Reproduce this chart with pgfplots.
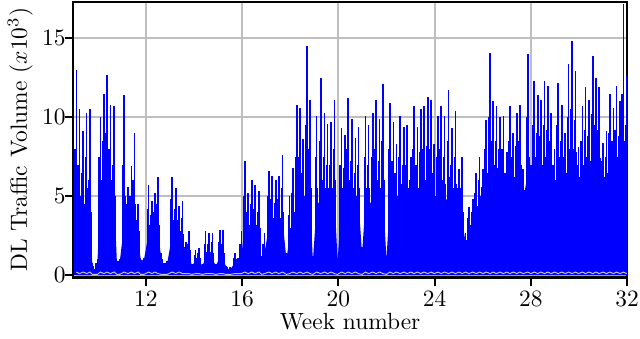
\documentclass[border=0pt]{standalone}
\usepackage{pgfplots}
\pgfplotsset{compat=1.18}
\usepackage{pgfplotstable}

% one row per daily spike: k = day since start of week 9,
% P = daily peak, S/T = secondary hourly peaks, F = solid level, G = gray series
\pgfplotstableread{
k P S T F G
0.8 13.0 8.0 6.5 3.2 0.2
1.7 10.5 7.0 5.0 2.8 0.1
2.8 9.1 6.5 4.5 3.0 0.2
3.8 10.3 7.5 5.5 3.4 0.1
4.7 10.5 6.0 4.0 3.0 0.2
5.5 0.8 0.7 0.6 0.6 0.05
6.2 0.4 0.5 0.5 0.3 0.05
6.9 1.0 0.8 0.9 0.7 0.05
7.8 10.0 7.5 6.0 5.0 0.2
8.8 11.5 8.5 6.5 5.5 0.1
9.7 12.7 9.0 7.0 5.8 0.2
10.7 10.8 8.0 6.0 5.2 0.1
11.8 10.7 7.0 5.0 4.8 0.2
12.6 0.9 0.8 0.7 0.8 0.05
13.4 1.0 0.9 0.8 0.8 0.05
14.7 11.4 7.0 5.0 3.2 0.2
15.8 5.6 4.5 3.5 2.6 0.1
16.8 6.9 5.0 4.0 3.0 0.2
17.7 9.0 6.0 4.5 3.2 0.1
18.8 4.5 3.5 2.8 2.4 0.2
19.5 1.1 1.0 0.9 1.0 0.05
20.4 1.1 0.9 1.0 0.9 0.05
21.8 5.7 4.2 3.2 2.6 0.2
22.8 4.7 3.8 3.0 2.4 0.1
23.6 5.2 4.0 3.0 2.6 0.2
24.6 6.2 4.5 3.2 2.8 0.1
25.5 1.4 1.2 1.0 1.0 0.05
26.3 0.8 0.7 0.7 0.6 0.05
27.2 0.9 0.8 0.7 0.7 0.05
28.7 6.2 4.8 3.5 2.6 0.2
29.7 5.5 4.2 3.2 2.6 0.1
30.7 4.4 3.5 2.8 2.2 0.2
31.7 4.7 3.6 2.6 2.2 0.1
32.6 2.1 1.8 1.5 1.2 0.1
33.5 2.8 2.0 1.6 1.4 0.1
34.4 0.7 0.6 0.6 0.6 0.05
35.5 1.6 1.3 1.1 0.9 0.1
36.5 1.75 1.4 1.1 0.9 0.1
37.5 0.7 0.6 0.6 0.6 0.05
38.4 2.8 2.0 1.5 1.1 0.1
39.4 2.7 2.0 1.5 1.1 0.1
40.4 2.7 2.1 1.4 1.0 0.1
41.4 0.7 0.6 0.6 0.6 0.05
42.5 2.85 2.1 1.5 1.1 0.1
43.4 2.85 2.0 1.4 1.1 0.1
44.4 0.6 0.6 0.5 0.5 0.05
45.4 0.5 0.4 0.5 0.3 0.05
46.9 1.4 1.1 0.9 0.8 0.1
47.9 1.1 1.0 0.9 0.8 0.1
48.8 2.8 2.0 1.6 1.3 0.1
49.8 7.2 5.0 3.8 3.0 0.2
50.8 5.2 4.0 3.2 2.6 0.1
51.8 6.05 4.5 3.4 2.8 0.2
52.8 5.7 4.2 3.2 2.8 0.1
53.9 5.3 4.0 3.0 2.6 0.2
54.7 1.2 1.0 0.9 0.8 0.05
55.5 2.7 2.0 1.6 1.4 0.1
56.8 6.6 5.0 3.8 3.0 0.2
57.7 6.3 4.8 3.6 3.0 0.1
58.8 6.05 4.6 3.5 2.8 0.2
59.7 6.3 4.8 3.6 3.0 0.1
60.8 7.6 5.5 4.0 3.4 0.2
61.9 1.4 1.2 1.0 1.0 0.05
62.8 5.0 3.8 3.0 2.4 0.1
63.8 6.8 5.2 4.0 3.2 0.2
64.9 10.8 7.5 5.5 4.4 0.1
65.8 10.6 7.5 5.5 4.6 0.2
66.8 8.6 6.5 5.0 4.0 0.1
67.9 14.5 9.5 6.5 5.0 0.2
68.8 11.1 8.0 5.5 4.6 0.1
69.6 1.2 1.0 0.9 0.9 0.05
70.7 10.1 7.5 5.5 4.4 0.2
71.9 12.5 8.5 6.0 4.8 0.1
73.0 10.3 7.5 5.5 4.6 0.2
73.9 9.6 7.0 5.5 4.4 0.1
74.9 9.7 7.0 5.5 4.6 0.2
75.9 11.1 8.0 6.0 4.8 0.1
76.8 1.1 1.0 0.9 0.9 0.05
77.9 9.3 7.0 5.5 4.6 0.2
79.0 8.9 6.8 5.2 4.4 0.1
79.9 11.2 8.0 6.0 5.0 0.2
80.9 9.9 7.2 5.5 4.6 0.1
82.0 8.7 6.5 5.0 4.4 0.2
82.9 9.4 7.0 5.5 4.6 0.1
83.9 1.8 1.5 1.3 1.3 0.05
84.9 10.1 7.5 5.5 4.6 0.2
85.8 9.5 7.0 5.5 4.4 0.1
87.0 10.3 7.5 5.8 4.8 0.2
88.0 11.1 8.0 6.0 5.0 0.1
89.0 9.9 7.2 5.5 4.6 0.2
90.0 12.1 8.5 6.0 5.0 0.1
91.0 1.2 1.0 0.9 1.0 0.05
92.0 10.9 8.0 6.0 4.8 0.2
93.0 9.7 7.2 5.5 4.6 0.1
93.9 8.3 6.5 5.0 4.2 0.2
95.0 10.1 7.5 5.8 4.8 0.1
96.1 9.4 7.0 5.5 4.6 0.2
97.0 9.5 7.0 5.5 4.6 0.1
98.1 7.5 6.0 5.0 4.0 0.2
99.0 10.7 8.0 6.0 4.8 0.1
100.0 9.4 7.0 5.5 4.6 0.2
101.0 10.5 7.8 6.0 4.8 0.1
101.9 10.7 8.0 6.0 5.0 0.2
103.0 11.3 8.2 6.2 5.0 0.1
104.0 11.1 8.0 6.0 5.0 0.2
104.9 8.3 6.5 5.0 4.2 0.1
106.0 10.1 7.5 5.8 4.6 0.2
106.9 10.7 8.0 6.0 4.8 0.1
107.9 10.1 7.5 5.8 4.6 0.2
109.1 11.7 8.5 6.2 5.0 0.1
110.0 9.3 7.0 5.5 4.4 0.2
111.1 10.4 7.5 5.8 4.6 0.1
112.1 6.7 5.5 4.5 3.6 0.2
113.0 7.5 5.5 4.0 3.6 0.1
114.0 2.7 2.4 2.2 2.0 0.2
115.0 4.3 3.6 3.2 2.6 0.1
116.1 4.8 4.0 3.6 3.0 0.2
117.1 6.5 5.2 4.4 3.8 0.1
118.1 7.5 6.0 5.0 4.4 0.2
119.1 6.7 5.6 4.8 4.2 0.1
120.0 9.8 8.0 6.5 5.2 0.2
121.2 14.1 10.0 7.5 6.2 0.1
122.0 11.0 8.5 7.0 5.8 0.2
123.0 10.7 8.5 6.8 5.6 0.1
124.0 10.0 8.0 6.5 5.4 0.2
125.0 10.1 8.0 6.5 5.6 0.1
126.0 7.8 6.5 5.5 4.8 0.2
126.9 10.7 8.5 7.0 5.8 0.1
127.9 9.0 7.5 6.2 5.4 0.2
128.9 10.3 8.2 6.8 5.8 0.1
129.8 10.8 8.5 7.0 6.0 0.2
130.8 6.7 6.0 5.4 4.8 0.1
132.1 14.0 10.0 7.5 6.4 0.2
133.0 7.0 6.2 5.6 5.2 0.1
134.0 12.3 9.5 7.5 6.4 0.2
135.0 11.4 9.0 7.2 6.2 0.1
135.9 11.1 8.8 7.0 6.0 0.2
137.0 12.3 9.5 7.5 6.6 0.1
137.9 12.0 9.2 7.5 6.4 0.2
138.9 10.3 8.5 7.0 6.0 0.1
139.9 8.0 7.0 6.0 5.4 0.2
140.9 12.2 9.5 7.5 6.6 0.1
142.0 10.8 8.5 7.0 6.2 0.2
143.0 9.0 7.5 6.5 5.8 0.1
144.0 13.4 10.0 8.0 6.8 0.2
145.0 14.8 10.5 8.0 7.0 0.1
146.0 12.9 9.8 7.8 6.8 0.2
146.9 8.1 7.0 6.2 5.6 0.1
148.0 10.7 8.5 7.0 6.2 0.2
148.9 11.9 9.2 7.5 6.6 0.1
149.9 11.1 8.8 7.2 6.4 0.2
151.0 13.9 10.2 8.0 7.0 0.1
152.0 12.5 9.5 7.6 6.6 0.2
152.9 11.9 9.2 7.4 6.4 0.1
154.0 8.4 7.2 6.2 5.6 0.2
155.0 9.1 7.5 6.5 6.0 0.1
156.0 11.5 9.0 7.4 6.6 0.2
157.0 10.6 8.5 7.0 6.4 0.1
157.9 12.0 9.2 7.5 6.8 0.2
159.0 11.0 8.8 7.2 6.6 0.1
159.9 17.2 11.5 8.5 7.4 0.2
160.9 12.6 9.5 7.5 7.0 0.1
}\dl

\begin{document}
\begin{tikzpicture}
\begin{axis}[
    width=236.6pt, height=117.7pt, scale only axis,
    xmin=8.98, xmax=32, ymin=-0.15, ymax=17.3,
    xtick={12,16,...,32}, ytick={0,5,10,15},
    grid=major,
    grid style={line width=0.8pt, color=black!25},
    axis line style={line width=1pt},
    tick align=outside, tick pos=left,
    major tick length=3.5pt,
    every tick/.style={black, line width=0.8pt},
    xlabel={Week number},
    ylabel={DL Traffic Volume ($x10^3$)},
    xlabel style={yshift=4pt},
    xticklabel style={yshift=1pt, inner xsep=0.5pt},
    yticklabel style={xshift=3.8pt},
    ylabel style={at={(axis description cs:-0.058,0.5)}, anchor=south},
]
% solid part of the daily traffic
\addplot[fill=blue, draw=none] table[x expr=9+\thisrow{k}/7, y=F]{\dl} \closedcycle;
% hourly peaks around each daily maximum
\addplot[ycomb, blue, line width=0.5pt] table[x expr=9+(\thisrow{k}-0.4)/7, y=S]{\dl};
\addplot[ycomb, blue, line width=0.5pt] table[x expr=9+(\thisrow{k}+0.35)/7, y=T]{\dl};
\addplot[ycomb, blue, line width=0.7pt] table[x expr=9+\thisrow{k}/7, y=P]{\dl};
% light gray series along the bottom
\addplot[black!20, line width=0.4pt] table[x expr=9+\thisrow{k}/7, y=G]{\dl};
\end{axis}
\end{tikzpicture}
\end{document}
